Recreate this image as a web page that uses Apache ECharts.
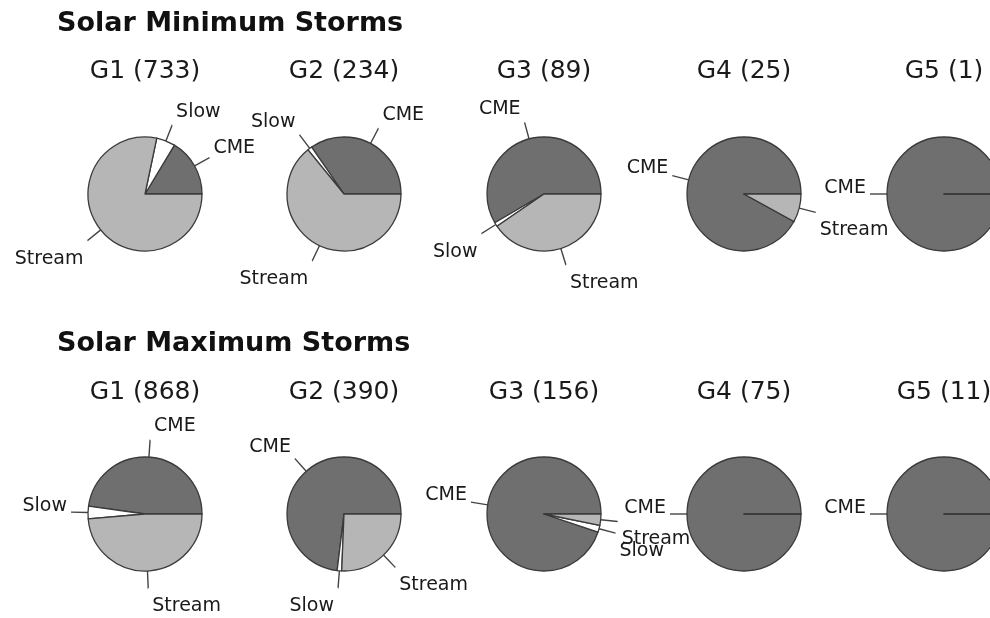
<!DOCTYPE html>
<html><head><meta charset="utf-8">
<script src="https://cdn.jsdelivr.net/npm/echarts@6/dist/echarts.min.js"></script>
<style>html,body{margin:0;padding:0;background:#fff}#c{width:990px;height:618px}</style>
</head><body><div id="c"></div>
<script>
// ---- data ----
var categories = ['CME', 'Slow', 'Stream'];
var classes = ['G1', 'G2', 'G3', 'G4', 'G5'];
var panelTitles = ['Solar Minimum Storms', 'Solar Maximum Storms'];
var minTotals = [733, 234, 89, 25, 1];
var minCME = [120, 81, 52, 23, 1];
var minSlow = [39, 3, 1, 0, 0];
var minStream = [574, 150, 36, 2, 0];
var maxTotals = [868, 390, 156, 75, 11];
var maxCME = [415, 285, 148, 75, 11];
var maxSlow = [31, 5, 3, 0, 0];
var maxStream = [422, 100, 5, 0, 0];

// ---- layout / style ----
var colors = { CME: '#6f6f6f', Slow: '#ffffff', Stream: '#b6b6b6' };
var colX = [145, 344, 544, 744, 944];
var rowY = [194, 514];
var titleY = [71, 392];
var headY = [24, 344];
var R = 57;
var FONT = 'DejaVu Sans';

var rows = [
  { totals: minTotals, vals: [minCME, minSlow, minStream] },
  { totals: maxTotals, vals: [maxCME, maxSlow, maxStream] }
];

var titles = [];
var series = [];
rows.forEach(function (row, ri) {
  titles.push({
    text: panelTitles[ri], left: 57, top: headY[ri], padding: 0,
    textAlign: 'left', textVerticalAlign: 'middle',
    textStyle: { fontFamily: FONT, fontWeight: 'bold', fontSize: 27, color: '#111', lineHeight: 27 }
  });
  classes.forEach(function (g, ci) {
    titles.push({
      text: g + ' (' + row.totals[ci] + ')', left: colX[ci], top: titleY[ri], padding: 0,
      textAlign: 'center', textVerticalAlign: 'middle',
      textStyle: { fontFamily: FONT, fontWeight: 'normal', fontSize: 25, color: '#1a1a1a', lineHeight: 25 }
    });
    var data = categories.map(function (c, k) {
      var v = row.vals[k][ci];
      var item = { name: c, value: v, itemStyle: { color: colors[c] } };
      if (v === 0) {
        item.label = { show: false };
        item.labelLine = { show: false };
      }
      return item;
    });
    series.push({
      type: 'pie',
      center: [colX[ci], rowY[ri]],
      radius: [0, R],
      startAngle: 0,
      clockwise: false,
      avoidLabelOverlap: false,
      silent: true,
      animation: false,
      emphasis: { disabled: true },
      itemStyle: { borderColor: '#3a3a3a', borderWidth: 1.3 },
      label: {
        show: true, position: 'outside', formatter: '{b}',
        fontFamily: FONT, fontSize: 19, color: '#1a1a1a',
        distanceToLabelLine: 4
      },
      labelLine: {
        show: true, length: 17, length2: 0.01, smooth: false,
        lineStyle: { color: '#444', width: 1.4 }
      },
      labelLayout: function (p) {
        var pts = p.labelLinePoints;
        if (!pts || pts.length < 2) return {};
        var dx = pts[1][0] - pts[0][0], dy = pts[1][1] - pts[0][1];
        var len = Math.sqrt(dx * dx + dy * dy) || 1;
        var s = -dy / len;
        var off = s < -0.1 ? 18 : (-6 - 8 * s);
        return { dy: off, labelLinePoints: pts };
      },
      data: data
    });
  });
});

var chart = echarts.init(document.getElementById('c'), null, { renderer: 'canvas' });
chart.setOption({ backgroundColor: '#fff', animation: false, title: titles, series: series });
</script>
</body></html>
